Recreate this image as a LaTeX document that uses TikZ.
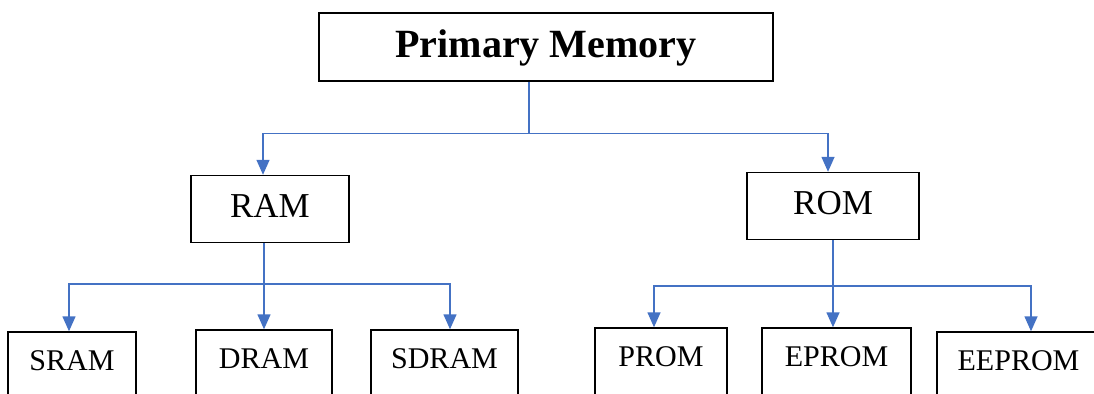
\documentclass[tikz,border=0pt]{standalone}
\usepackage{fontspec}
\setmainfont{Liberation Serif}
\usetikzlibrary{arrows.meta}
\definecolor{linkblue}{RGB}{68,114,196}
\tikzset{
  box/.style={draw=black, line width=0.8pt, inner xsep=0pt, inner ysep=0pt, align=center},
  topbox/.style={box, font=\bfseries\fontsize{22.8pt}{27pt}\selectfont, text height=0.9cm, text depth=0.46cm},
  midbox/.style={box, font=\fontsize{19.9pt}{24pt}\selectfont, text height=0.85cm, text depth=0.49cm},
  lowbox/.style={box, font=\fontsize{17.1pt}{21pt}\selectfont, text height=0.77cm, text depth=0.59cm},
  conn/.style={draw=linkblue, line width=0.8pt},
  arr/.style={conn, -{Triangle[width=0.26cm,length=0.3cm]}}
}
\begin{document}
\begin{tikzpicture}[x=0.02cm,y=-0.02cm]
\useasboundingbox (0,0) rectangle (1094,394);
\clip (0,0) rectangle (1094,394);
% nodes
\node[topbox, minimum width=9.08cm] (pm) at (546,47) {Primary Memory};
\node[midbox, minimum width=3.16cm] (ram) at (270,209) {RAM};
\node[midbox, minimum width=3.44cm] (rom) at (833,206) {ROM};
\node[lowbox, minimum width=2.56cm] (sram) at (72,366) {SRAM};
\node[lowbox, minimum width=2.72cm] (dram) at (264,364) {DRAM};
\node[lowbox, minimum width=2.94cm] (sdram) at (444.5,364) {SDRAM};
\node[lowbox, minimum width=2.64cm] (prom) at (661,362) {PROM};
\node[lowbox, minimum width=2.98cm] (eprom) at (836.5,362) {EPROM};
\node[lowbox, minimum width=3.26cm] (eeprom) at (1018.5,366) {EEPROM};
% connector targets
\path (pm.south) ++(-17,52) coordinate (j0);
\path (ram.north) ++(-7,0) coordinate (tram);
\path (rom.north) ++(-5,0) coordinate (trom);
\path (ram.south -| dram.north) ++(0,41) coordinate (j1);
\path (sram.north) ++(-3,0) coordinate (tsram);
\path (sdram.north) ++(5.5,0) coordinate (tsdram);
\path (rom.south) ++(0,46) coordinate (j2);
\path (prom.north) ++(-7,0) coordinate (tprom);
\path (eeprom.north) ++(12.5,0) coordinate (teeprom);
% level 1
\draw[conn] (pm.south -| j0) -- (j0);
\draw[arr] (j0) -| (tram);
\draw[arr] (j0) -| (trom);
% RAM branch
\draw[arr] (ram.south -| dram.north) -- (dram.north);
\draw[arr] (j1) -| (tsram);
\draw[arr] (j1) -| (tsdram);
% ROM branch
\draw[arr] (rom.south) -- (rom.south |- eprom.north);
\draw[arr] (j2) -| (tprom);
\draw[arr] (j2) -| (teeprom);
\end{tikzpicture}
\end{document}
